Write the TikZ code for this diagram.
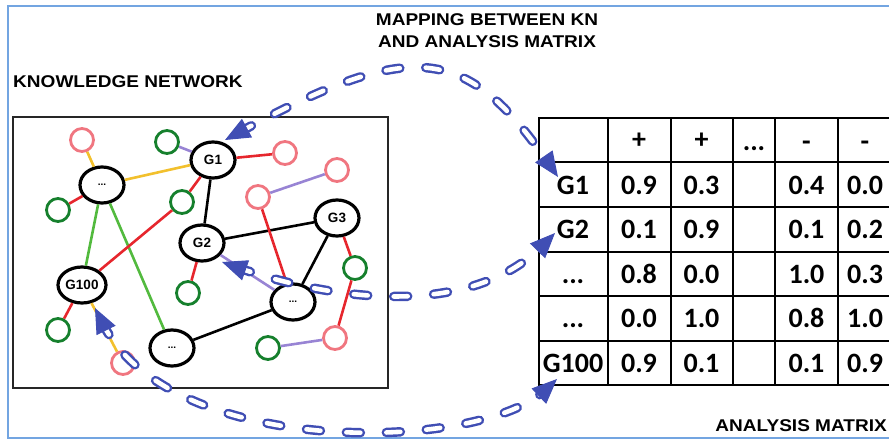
\documentclass[tikz,border=0pt]{standalone}
\usepackage{fontspec}
\usetikzlibrary{arrows.meta,shapes.geometric}
\newfontfamily\hlv{Liberation Sans}[FakeStretch=1.12]
\newfontfamily\hlvn{Liberation Sans}
\newfontfamily\clb{Carlito}
\definecolor{frameblue}{RGB}{115,165,225}
\definecolor{mapblue}{RGB}{64,78,180}
\definecolor{pinkc}{RGB}{240,118,128}
\definecolor{greenc}{RGB}{22,128,45}
\definecolor{rededge}{RGB}{230,38,45}
\definecolor{yelledge}{RGB}{242,192,45}
\definecolor{greenedge}{RGB}{82,186,62}
\definecolor{purpedge}{RGB}{152,132,212}
\begin{document}
\begin{tikzpicture}[x=1pt,y=-1pt,
  bignode/.style={ellipse, draw=black, line width=3.2pt, fill=white, minimum width=44pt, minimum height=36pt, inner sep=0pt, font=\hlvn\bfseries\fontsize{13.5}{14}\selectfont},
  dotnode/.style={bignode, font=\hlvn\bfseries\fontsize{10}{10}\selectfont},
  pinknode/.style={circle, draw=pinkc, line width=2.8pt, fill=white, minimum size=23pt, inner sep=0pt},
  greennode/.style={circle, draw=greenc, line width=2.8pt, fill=white, minimum size=23pt, inner sep=0pt},
  lnk/.style={line width=2.6pt},
  title/.style={font=\hlv\bfseries\fontsize{17}{22}\selectfont, inner sep=0pt},
  cell/.style={font=\clb\bfseries\fontsize{28}{30}\selectfont, inner sep=0pt, anchor=base},
  grid/.style={line width=2pt, black},
  mapout/.style={mapblue, line width=9.5pt, line cap=round, dash pattern=on 14pt off 26pt, shorten <=16pt, shorten >=16pt},
  mapin/.style={white, line width=4.6pt, line cap=round, dash pattern=on 14pt off 26pt, shorten <=16pt, shorten >=16pt},
  maptip/.style={mapblue, line width=1pt, dash pattern=on 0pt off 3000pt, {Triangle[length=25pt,width=21pt]}-{Triangle[length=25pt,width=21pt]}}
]
\useasboundingbox (0,0) rectangle (889,441);
\clip (0,0) rectangle (889,441);

% outer frame
\draw[frameblue, line width=2pt] (8,6) rectangle (905,438);

% titles
\node[title, anchor=west] (kn) at (13,82) {KNOWLEDGE NETWORK};
\node[title, align=center] (map) at (487,31) {MAPPING BETWEEN KN\\AND ANALYSIS MATRIX};
\node[title, anchor=east] (am) at (887,426) {ANALYSIS MATRIX};

% network box
\draw[line width=2.4pt, black!85] (13,117) rectangle (388,388);

% nodes
\node[dotnode] (dA) at (102,185) {...};
\node[bignode] (G1) at (213,160) {G1};
\node[bignode] (G2) at (202,243) {G2};
\node[bignode] (G3) at (337,218) {G3};
\node[bignode, minimum width=48pt] (G100) at (82,285) {G100};
\node[dotnode] (dB) at (293,302) {...};
\node[dotnode] (dC) at (172,348) {...};

\node[pinknode] (p1) at (82,140) {};
\node[pinknode] (p2) at (285,153) {};
\node[pinknode] (p3) at (337,170) {};
\node[pinknode] (p4) at (258,197) {};
\node[pinknode] (p5) at (335,338) {};
\node[pinknode] (p6) at (123,363) {};
\node[greennode] (g1) at (167,142) {};
\node[greennode] (g2) at (58,210) {};
\node[greennode] (g3) at (182,202) {};
\node[greennode] (g4) at (188,293) {};
\node[greennode] (g5) at (355,268) {};
\node[greennode] (g6) at (58,330) {};
\node[greennode] (g7) at (268,348) {};

% edges
\draw[lnk, yelledge] (p1) -- (dA);
\draw[lnk, yelledge] (dA) -- (G1);
\draw[lnk, rededge] (dA) -- (g2);
\draw[lnk, greenedge] (dA) -- (G100);
\draw[lnk, greenedge] (dA) -- (dC);
\draw[lnk, purpedge] (g1) -- (G1);
\draw[lnk, rededge] (G1) -- (p2);
\draw[lnk, rededge] (G1) -- (g3);
\draw[lnk, rededge] (g3) -- (G100);
\draw[lnk, black] (G1) -- (G2);
\draw[lnk, black] (G2) -- (G3);
\draw[lnk, rededge] (G2) -- (g4);
\draw[lnk, purpedge] (G2) -- (dB);
\draw[lnk, black] (G3) -- (dB);
\draw[lnk, rededge] (G3) -- (g5);
\draw[lnk, rededge] (g5) -- (p5);
\draw[lnk, purpedge] (p4) -- (p3);
\draw[lnk, rededge] (p4) -- (dB);
\draw[lnk, black] (dB) -- (dC);
\draw[lnk, rededge] (G100) -- (g6);
\draw[lnk, yelledge] (G100) -- (p6);
\draw[lnk, purpedge] (g7) -- (p5);

% table grid
\foreach \yy in {118,162.5,207,251.5,296,340.5,385}
  \draw[grid] (538,\yy) -- (905,\yy);
\foreach \xx in {539,608,671,733,775,838}
  \draw[grid] (\xx,118) -- (\xx,385);

% table texts (baseline = row centre + 9)
\node[cell] (h1) at (639,149) {+};
\node[cell] (h2) at (701.5,149) {+};
\node[cell] (h3) at (754,151) {...};
\node[cell] (h4) at (806.5,151) {-};
\node[cell] (h5) at (865,151) {-};

\node[cell] (r1) at (573,194) {G1};
\node[cell] (r2) at (573,238.5) {G2};
\node[cell] (r3) at (573,283) {...};
\node[cell] (r4) at (573,327.5) {...};
\node[cell] (r5) at (573,372) {G100};

\node[cell] (c11) at (639,194) {0.9};
\node[cell] (c12) at (701.5,194) {0.3};
\node[cell] (c14) at (806.5,194) {0.4};
\node[cell] (c15) at (865,194) {0.0};

\node[cell] (c21) at (639,238.5) {0.1};
\node[cell] (c22) at (701.5,238.5) {0.9};
\node[cell] (c24) at (806.5,238.5) {0.1};
\node[cell] (c25) at (865,238.5) {0.2};

\node[cell] (c31) at (639,283) {0.8};
\node[cell] (c32) at (701.5,283) {0.0};
\node[cell] (c34) at (806.5,283) {1.0};
\node[cell] (c35) at (865,283) {0.3};

\node[cell] (c41) at (639,327.5) {0.0};
\node[cell] (c42) at (701.5,327.5) {1.0};
\node[cell] (c44) at (806.5,327.5) {0.8};
\node[cell] (c45) at (865,327.5) {1.0};

\node[cell] (c51) at (639,372) {0.9};
\node[cell] (c52) at (701.5,372) {0.1};
\node[cell] (c54) at (806.5,372) {0.1};
\node[cell] (c55) at (865,372) {0.9};

% mapping arrows
\coordinate (a1s) at (225,140);
\coordinate (a1e) at (558,177);
\coordinate (a2s) at (222,262);
\coordinate (a2e) at (555,233);
\coordinate (a3s) at (95,308);
\coordinate (a3e) at (557,379);

\draw[mapout] (a1s) .. controls (410,40) and (465,42) .. (a1e);
\draw[mapin]  (a1s) .. controls (410,40) and (465,42) .. (a1e);
\draw[maptip] (a1s) .. controls (410,40) and (465,42) .. (a1e);

\draw[mapout] (a2s) .. controls (330,300) and (470,320) .. (a2e);
\draw[mapin]  (a2s) .. controls (330,300) and (470,320) .. (a2e);
\draw[maptip] (a2s) .. controls (330,300) and (470,320) .. (a2e);

\draw[mapout] (a3s) .. controls (170,460) and (480,452) .. (a3e);
\draw[mapin]  (a3s) .. controls (170,460) and (480,452) .. (a3e);
\draw[maptip] (a3s) .. controls (170,460) and (480,452) .. (a3e);
\end{tikzpicture}
\end{document}
